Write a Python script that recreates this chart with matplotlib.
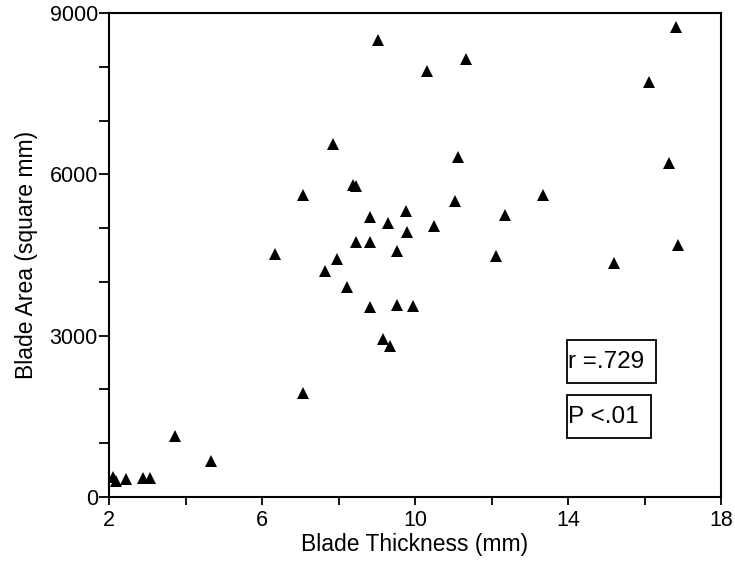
import matplotlib
matplotlib.use("Agg")
import matplotlib.pyplot as plt
from matplotlib.patches import Rectangle

plt.rcParams['font.family'] = ['Liberation Sans', 'DejaVu Sans']

thickness = [2.11, 2.18, 2.44, 2.88, 3.07, 3.73, 4.67, 6.35, 7.06, 7.06,
             7.65, 7.86, 7.96, 8.23, 8.37, 8.45, 8.47, 8.82, 8.82, 8.82,
             9.02, 9.17, 9.29, 9.35, 9.54, 9.53, 9.77, 9.78, 9.94, 10.31,
             10.50, 11.05, 11.12, 11.33, 12.13, 12.36, 13.35, 15.19, 16.11, 16.63,
             16.82, 16.88]
area = [370, 300, 335, 360, 360, 1130, 670, 4510, 1930, 5615,
        4200, 6560, 4430, 3910, 5800, 5780, 4750, 5210, 4740, 3540,
        8500, 2940, 5090, 2810, 4570, 3570, 5320, 4920, 3560, 7930,
        5040, 5510, 6330, 8140, 4480, 5245, 5615, 4357, 7710, 6205,
        8745, 4680]

x_major = [2, 6, 10, 14, 18]
x_minor = [4, 8, 12, 16]
y_major = [0, 3000, 6000, 9000]
y_minor = [1000, 2000, 4000, 5000, 7000, 8000]
stats = ["r =.729", "P <.01"]

fig = plt.figure(figsize=(7.35, 5.63), dpi=100)
ax = fig.add_axes([0.1483, 0.1172, 0.8327, 0.8597])

ax.plot(thickness, area, linestyle='none', marker='^', markersize=8,
        color='black', markeredgewidth=0)

ax.set_xlim(2, 18)
ax.set_ylim(0, 9000)
ax.set_xticks(x_major)
ax.set_xticks(x_minor, minor=True)
ax.set_yticks(y_major)
ax.set_yticks(y_minor, minor=True)
ax.tick_params(axis='both', which='both', direction='out', width=1.3,
               labelsize=15.5, colors='black')
ax.tick_params(axis='x', which='both', length=6, pad=3)
ax.tick_params(axis='y', which='both', length=7, pad=1)
for s in ax.spines.values():
    s.set_linewidth(1.5)

ax.set_xlabel("Blade Thickness (mm)", fontsize=16.5, labelpad=2)
ax.set_ylabel("Blade Area (square mm)", fontsize=16.5, labelpad=8)

# stat boxes (axes coordinates)
def px2ax(x, y):
    return ((x - 109) / 612.0, (497 - y) / 484.0)

boxes = [(567, 340, 656, 383), (567, 395, 651, 438)]
for (x0, y0, x1, y1), label in zip(boxes, stats):
    ax0, ay1 = px2ax(x0, y1)
    ax1, ay0 = px2ax(x1, y0)
    ax.add_patch(Rectangle((ax0, ay1), ax1 - ax0, ay0 - ay1, transform=ax.transAxes,
                           fill=False, edgecolor='black', linewidth=1.3))
    ax.text(ax0 + 0.001, (ay0 + ay1) / 2, label, transform=ax.transAxes,
            fontsize=17.5, ha='left', va='center')

fig.savefig("out.png", dpi=100)
